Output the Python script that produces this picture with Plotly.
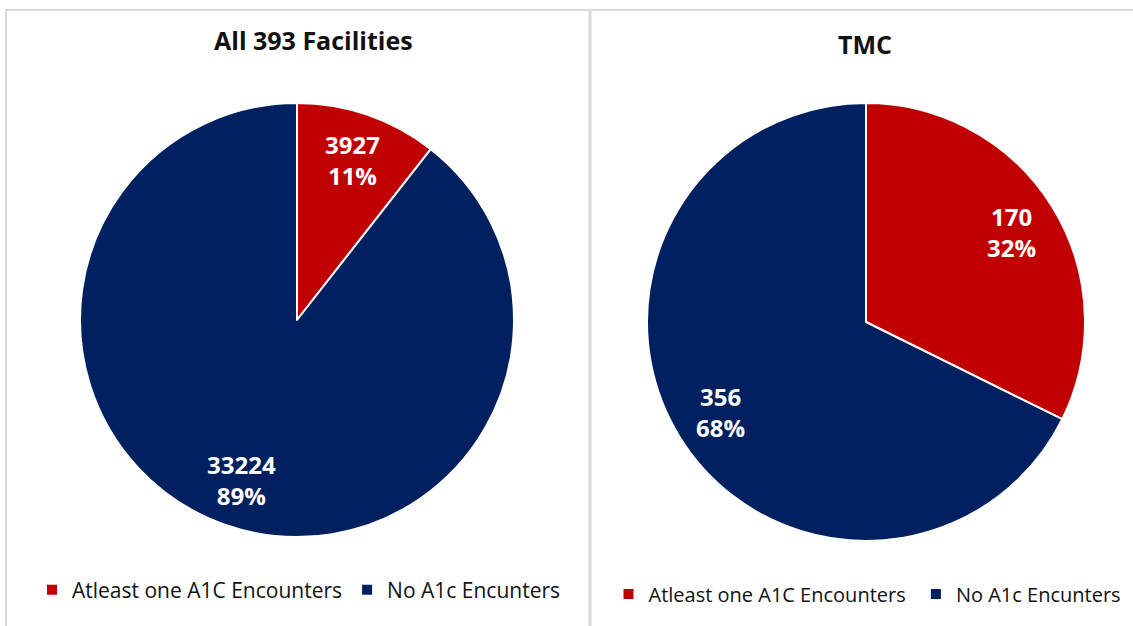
import math
import plotly.graph_objects as go

# Encounter counts per group
categories = ["Atleast one A1C Encounters", "No A1c Encunters"]
all_facilities = [3927, 33224]
tmc = [170, 356]
titles = ["All 393 Facilities", "TMC"]

colors = ["#C00000", "#002060"]
W, H = 1133, 626

# pixel boxes for each pie (left, right, top, bottom)
boxes = [(80, 514, 103, 537), (647, 1085, 103, 541)]
title_pos = [(313, 40), (865, 44)]
legend_pos = [(299, 590), (870, 594)]
legend_size = [21, 20]
LABEL_R = 0.78  # data labels sit at this fraction of the radius along each slice bisector

def px_domain(b):
    x0, x1, y0, y1 = b
    return dict(x=[x0 / W, x1 / W], y=[1 - y1 / H, 1 - y0 / H])

fig = go.Figure()
annotations = []
for i, (vals, box) in enumerate(zip([all_facilities, tmc], boxes)):
    # pie legends merge identical labels across traces, so pad the second set
    # with an invisible trailing space to give each chart its own legend
    labels = [c + " " * i for c in categories]
    fig.add_trace(go.Pie(
        labels=labels, values=vals, sort=False, direction="clockwise", rotation=0,
        marker=dict(colors=colors, line=dict(color="white", width=2)),
        textinfo="none", domain=px_domain(box),
        legend="legend" if i == 0 else "legend2",
        hoverinfo="label+value+percent",
    ))
    # data labels: value and share, placed along each slice bisector
    total = sum(vals)
    cx = (box[0] + box[1]) / 2
    cy = (box[2] + box[3]) / 2
    r = min(box[1] - box[0], box[3] - box[2]) / 2
    cum = 0
    for v in vals:
        mid = (cum + v / 2) / total * 2 * math.pi
        cum += v
        lx = cx + LABEL_R * r * math.sin(mid)
        ly = cy - LABEL_R * r * math.cos(mid)
        annotations.append(dict(
            text=f"<b>{v}<br>{round(100 * v / total)}%</b>",
            x=lx / W, y=1 - ly / H, xref="paper", yref="paper",
            xanchor="center", yanchor="middle", showarrow=False,
            font=dict(family="'Open Sans', sans-serif", size=24, color="white"),
        ))

for t, (tx, ty) in zip(titles, title_pos):
    annotations.append(dict(
        text=f"<b>{t}</b>", x=tx / W, y=1 - ty / H, xref="paper", yref="paper",
        xanchor="center", yanchor="middle", showarrow=False,
        font=dict(family="'Open Sans', sans-serif", size=25, color="#111"),
    ))

def legend_style(pos, size):
    return dict(orientation="h", xanchor="center", yanchor="middle",
                x=pos[0] / W, y=1 - pos[1] / H,
                font=dict(family="'Open Sans', sans-serif", size=size, color="#111"),
                bgcolor="rgba(0,0,0,0)", itemwidth=30, traceorder="normal")

fig.update_layout(
    width=W, height=H, margin=dict(l=0, r=0, t=0, b=0),
    paper_bgcolor="white", plot_bgcolor="white",
    legend=legend_style(legend_pos[0], legend_size[0]),
    legend2=legend_style(legend_pos[1], legend_size[1]),
    shapes=[
        dict(type="rect", xref="paper", yref="paper", x0=6 / W, x1=1.01, y0=-0.01, y1=1 - 10 / H,
             line=dict(color="#d9d9d9", width=2)),
        dict(type="line", xref="paper", yref="paper", x0=590 / W, x1=590 / W, y0=-0.01, y1=1 - 10 / H,
             line=dict(color="#d9d9d9", width=3)),
    ],
    annotations=annotations,
)

fig.write_html("out.html")
